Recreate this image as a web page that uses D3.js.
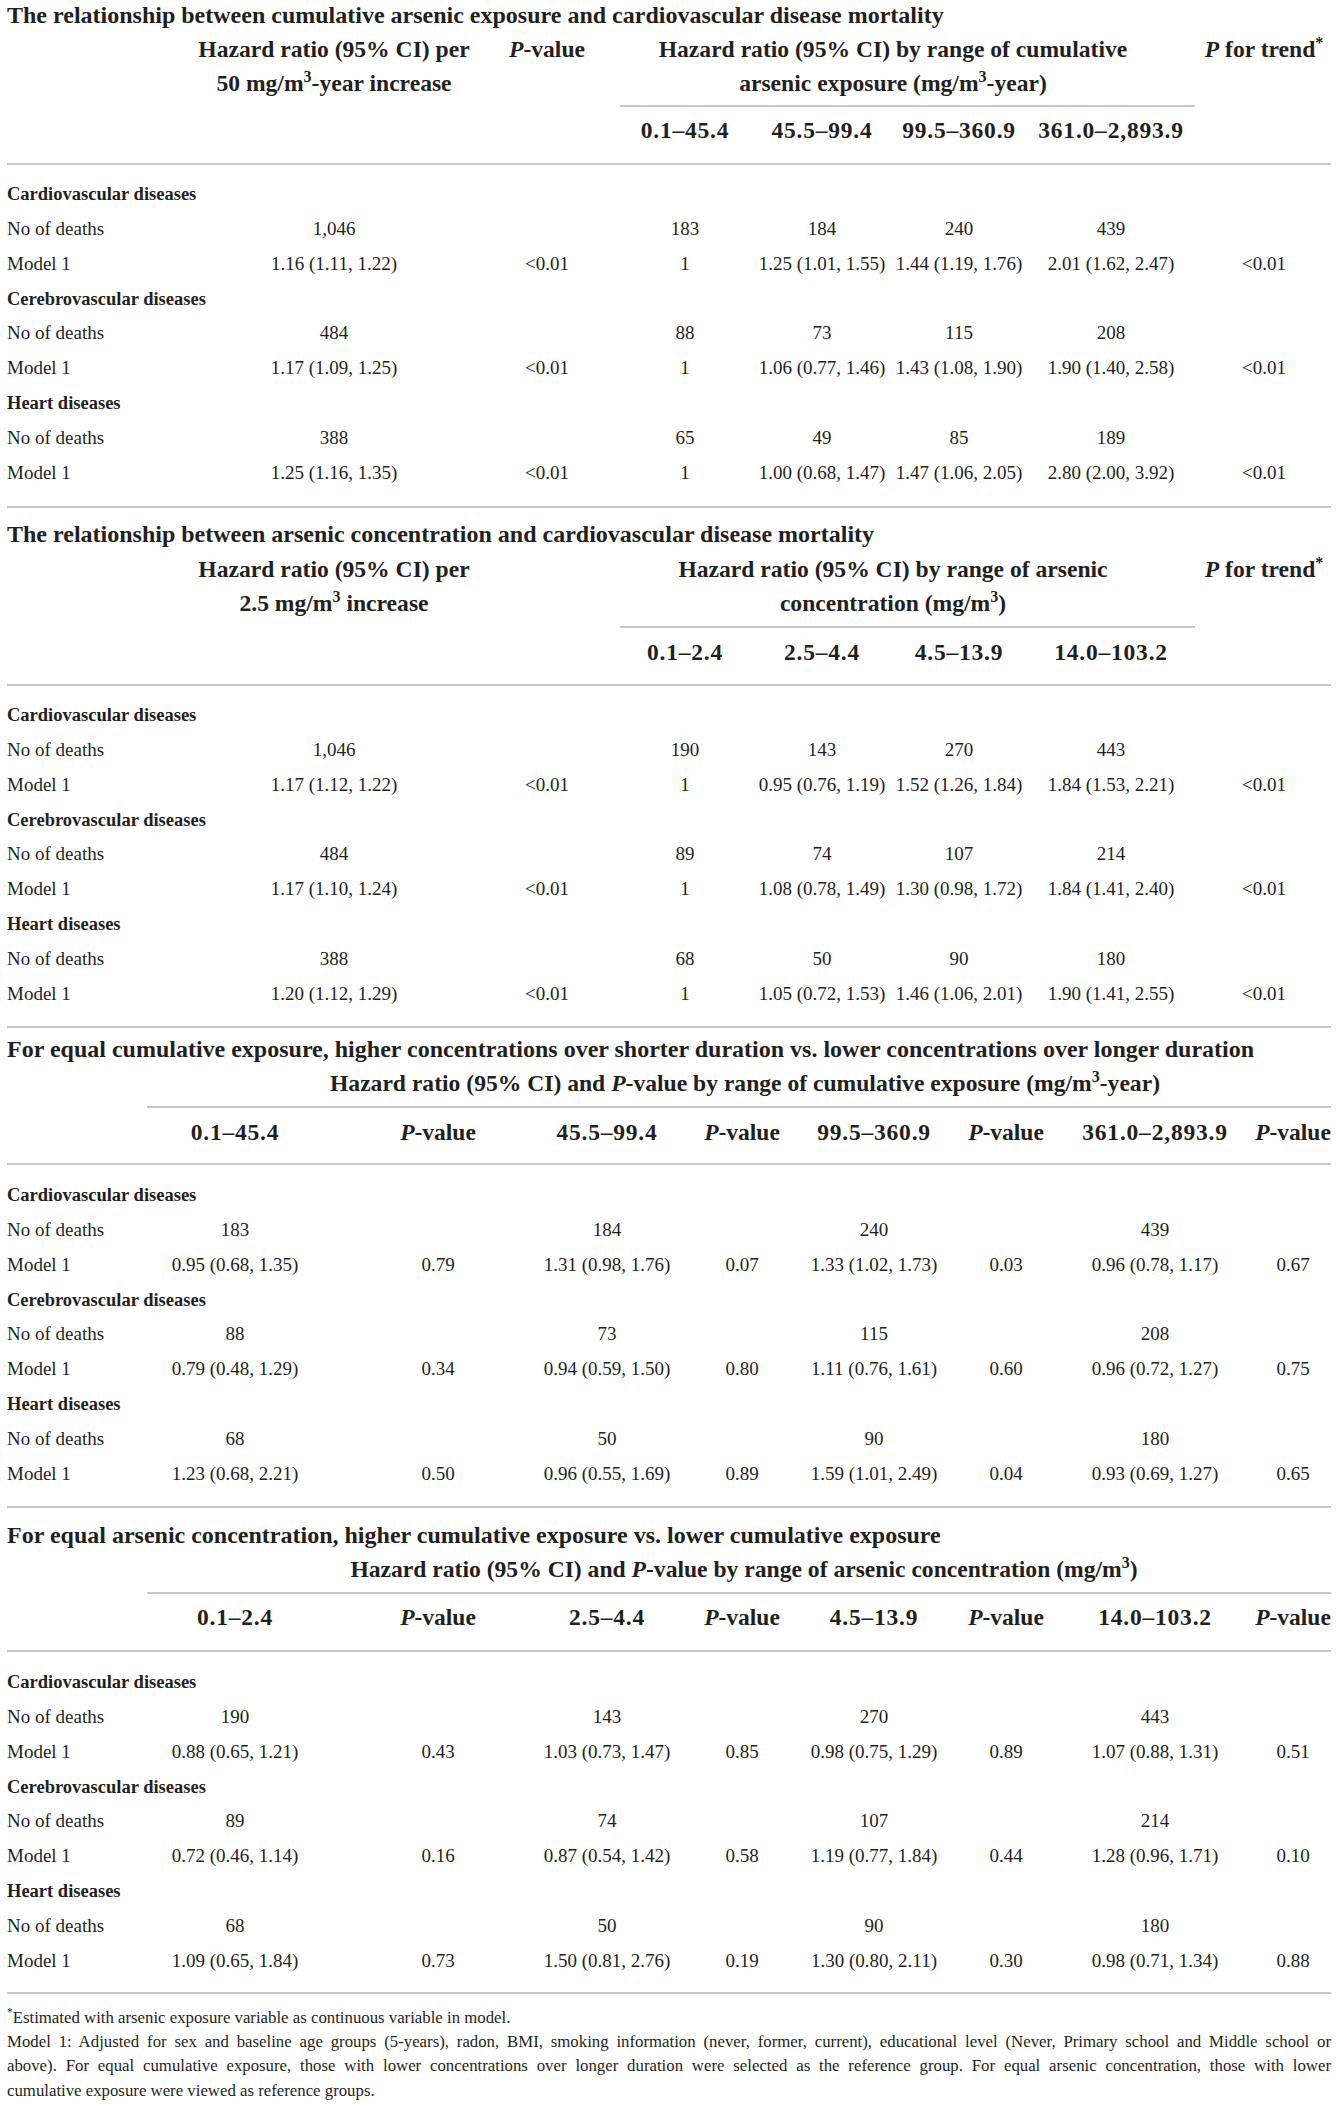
<!DOCTYPE html>
<html><head><meta charset="utf-8">
<script src="https://cdn.jsdelivr.net/npm/d3@7"></script>
<style>
html,body{margin:0;padding:0;background:#fff;}
svg{display:block;}
</style>
</head><body>
<script>
// ---------------- DATA ----------------
const diseases = ["Cardiovascular diseases", "Cerebrovascular diseases", "Heart diseases"];
const rowLabels = ["No of deaths", "Model 1"];

const titles = [
  "The relationship between cumulative arsenic exposure and cardiovascular disease mortality",
  "The relationship between arsenic concentration and cardiovascular disease mortality",
  "For equal cumulative exposure, higher concentrations over shorter duration vs. lower concentrations over longer duration",
  "For equal arsenic concentration, higher cumulative exposure vs. lower cumulative exposure"
];

const cumRanges = ["0.1–45.4", "45.5–99.4", "99.5–360.9", "361.0–2,893.9"];
const concRanges = ["0.1–2.4", "2.5–4.4", "4.5–13.9", "14.0–103.2"];

// Section 1: cumulative exposure
const s1TotalDeaths = [1046, 484, 388];
const s1PerHR = ["1.16 (1.11, 1.22)", "1.17 (1.09, 1.25)", "1.25 (1.16, 1.35)"];
const s1PerP = ["<0.01", "<0.01", "<0.01"];
const s1Deaths = [[183, 184, 240, 439], [88, 73, 115, 208], [65, 49, 85, 189]];
const s1HR = [
  ["1", "1.25 (1.01, 1.55)", "1.44 (1.19, 1.76)", "2.01 (1.62, 2.47)"],
  ["1", "1.06 (0.77, 1.46)", "1.43 (1.08, 1.90)", "1.90 (1.40, 2.58)"],
  ["1", "1.00 (0.68, 1.47)", "1.47 (1.06, 2.05)", "2.80 (2.00, 3.92)"]
];
const s1Trend = ["<0.01", "<0.01", "<0.01"];

// Section 2: concentration
const s2TotalDeaths = [1046, 484, 388];
const s2PerHR = ["1.17 (1.12, 1.22)", "1.17 (1.10, 1.24)", "1.20 (1.12, 1.29)"];
const s2PerP = ["<0.01", "<0.01", "<0.01"];
const s2Deaths = [[190, 143, 270, 443], [89, 74, 107, 214], [68, 50, 90, 180]];
const s2HR = [
  ["1", "0.95 (0.76, 1.19)", "1.52 (1.26, 1.84)", "1.84 (1.53, 2.21)"],
  ["1", "1.08 (0.78, 1.49)", "1.30 (0.98, 1.72)", "1.84 (1.41, 2.40)"],
  ["1", "1.05 (0.72, 1.53)", "1.46 (1.06, 2.01)", "1.90 (1.41, 2.55)"]
];
const s2Trend = ["<0.01", "<0.01", "<0.01"];

// Section 3: equal cumulative exposure
const s3Deaths = [[183, 184, 240, 439], [88, 73, 115, 208], [68, 50, 90, 180]];
const s3HR = [
  ["0.95 (0.68, 1.35)", "1.31 (0.98, 1.76)", "1.33 (1.02, 1.73)", "0.96 (0.78, 1.17)"],
  ["0.79 (0.48, 1.29)", "0.94 (0.59, 1.50)", "1.11 (0.76, 1.61)", "0.96 (0.72, 1.27)"],
  ["1.23 (0.68, 2.21)", "0.96 (0.55, 1.69)", "1.59 (1.01, 2.49)", "0.93 (0.69, 1.27)"]
];
const s3P = [["0.79", "0.07", "0.03", "0.67"], ["0.34", "0.80", "0.60", "0.75"], ["0.50", "0.89", "0.04", "0.65"]];

// Section 4: equal concentration
const s4Deaths = [[190, 143, 270, 443], [89, 74, 107, 214], [68, 50, 90, 180]];
const s4HR = [
  ["0.88 (0.65, 1.21)", "1.03 (0.73, 1.47)", "0.98 (0.75, 1.29)", "1.07 (0.88, 1.31)"],
  ["0.72 (0.46, 1.14)", "0.87 (0.54, 1.42)", "1.19 (0.77, 1.84)", "1.28 (0.96, 1.71)"],
  ["1.09 (0.65, 1.84)", "1.50 (0.81, 2.76)", "1.30 (0.80, 2.11)", "0.98 (0.71, 1.34)"]
];
const s4P = [["0.43", "0.85", "0.89", "0.51"], ["0.16", "0.58", "0.44", "0.10"], ["0.73", "0.19", "0.30", "0.88"]];

const footnotes = [
  {parts: [{t: "*", sup: true}, {t: "Estimated with arsenic exposure variable as continuous variable in model."}], justify: false},
  {parts: [{t: "Model 1: Adjusted for sex and baseline age groups (5-years), radon, BMI, smoking information (never, former, current), educational level (Never, Primary school and Middle school or"}], justify: true},
  {parts: [{t: "above). For equal cumulative exposure, those with lower concentrations over longer duration were selected as the reference group. For equal arsenic concentration, those with lower"}], justify: true},
  {parts: [{t: "cumulative exposure were viewed as reference groups."}], justify: false}
];

// ---------------- LAYOUT / STYLE ----------------
const W = 1338, H = 2104;
const INK = "#231f20", RULE = "#c8c8c8";
const FONT = "'Liberation Serif', 'Times New Roman', serif";
const FS_TITLE = 24, FS_HEAD = 23.6, FS_RANGE = 23.5, FS_CAT = 18.5, FS_BODY = 19, FS_FOOT = 16.8;
const LEFT = 7, RIGHT = 1331;

const svg = d3.select("body").append("svg")
  .attr("width", W).attr("height", H)
  .attr("font-family", FONT).attr("fill", INK);
svg.append("rect").attr("width", W).attr("height", H).attr("fill", "#fff");

function rich(g, x, y, parts, fs, opts = {}) {
  const t = g.append("text")
    .attr("x", x).attr("y", y + fs * 0.33)
    .attr("font-size", fs)
    .attr("font-weight", opts.bold ? "bold" : "normal")
    .attr("text-anchor", opts.anchor || "middle")
    .attr("fill", INK);
  if (opts.ls) t.attr("letter-spacing", opts.ls);
  let pending = 0;
  parts.forEach(p => {
    const s = t.append("tspan").text(p.t);
    if (p.sup) {
      s.attr("font-size", fs * 0.68).attr("dy", -fs * 0.38 + pending);
      pending = fs * 0.38;
    } else {
      if (pending) { s.attr("dy", pending); pending = 0; }
      if (p.it) s.attr("font-style", "italic");
    }
  });
  return t;
}
function hline(x1, x2, y) {
  svg.append("line").attr("x1", x1).attr("x2", x2).attr("y1", y).attr("y2", y)
    .attr("stroke", RULE).attr("stroke-width", 2);
}

// Horizontal rules (full width)
const rulesY = [164, 507, 685, 1027, 1164, 1507, 1651, 1993];
rulesY.forEach(y => hline(LEFT, RIGHT, y));

// ---------- Sections 1 & 2 (per-increase + ranges + trend) ----------
function sectionA(cfg) {
  const g = svg.append("g");
  const x = d3.scaleOrdinal()
    .domain(["per", "p", "r0", "r1", "r2", "r3", "trend"])
    .range([334, 547, 685, 822, 959, 1111, 1264]);
  const y = d3.scaleLinear().domain([0, 8]).range([cfg.rowTop, cfg.rowTop + 8 * 34.8]);

  rich(g, LEFT, cfg.titleY, [{t: cfg.title}], FS_TITLE, {bold: true, anchor: "start"});
  rich(g, x("per"), cfg.h1Y, [{t: "Hazard ratio (95% CI) per"}], FS_HEAD, {bold: true});
  rich(g, x("per"), cfg.h2Y, cfg.perLine2, FS_HEAD, {bold: true});
  if (cfg.showP) rich(g, x("p"), cfg.h1Y, [{t: "P", it: true}, {t: "-value"}], FS_HEAD, {bold: true});
  rich(g, 893, cfg.h1Y, [{t: cfg.grpLine1}], FS_HEAD, {bold: true});
  rich(g, 893, cfg.h2Y, cfg.grpLine2, FS_HEAD, {bold: true});
  rich(g, x("trend"), cfg.h1Y, [{t: "P", it: true}, {t: " for trend"}, {t: "*", sup: true}], FS_HEAD, {bold: true});
  hline(620, 1195, cfg.ulY);
  cfg.ranges.forEach((r, j) => rich(g, x("r" + j), cfg.labY, [{t: r}], FS_RANGE, {bold: true, ls: 0.8}));

  diseases.forEach((d, i) => {
    const base = i * 3;
    rich(g, LEFT, y(base), [{t: d}], FS_CAT, {bold: true, anchor: "start"});
    rich(g, LEFT, y(base + 1), [{t: rowLabels[0]}], FS_BODY, {anchor: "start"});
    rich(g, LEFT, y(base + 2), [{t: rowLabels[1]}], FS_BODY, {anchor: "start"});
    rich(g, x("per"), y(base + 1), [{t: d3.format(",")(cfg.total[i])}], FS_BODY);
    cfg.deaths[i].forEach((v, j) => rich(g, x("r" + j), y(base + 1), [{t: d3.format(",")(v)}], FS_BODY));
    rich(g, x("per"), y(base + 2), [{t: cfg.perHR[i]}], FS_BODY);
    rich(g, x("p"), y(base + 2), [{t: cfg.perP[i]}], FS_BODY);
    cfg.hr[i].forEach((v, j) => rich(g, x("r" + j), y(base + 2), [{t: v}], FS_BODY));
    rich(g, x("trend"), y(base + 2), [{t: cfg.trend[i]}], FS_BODY);
  });
}

// ---------- Sections 3 & 4 (ranges with P-values) ----------
function sectionB(cfg) {
  const g = svg.append("g");
  const x = d3.scaleOrdinal()
    .domain(["r0", "p0", "r1", "p1", "r2", "p2", "r3", "p3"])
    .range([235, 438, 607, 742, 874, 1006, 1155, 1293]);
  const y = d3.scaleLinear().domain([0, 8]).range([cfg.rowTop, cfg.rowTop + 8 * 34.8]);

  rich(g, LEFT, cfg.titleY, [{t: cfg.title}], FS_TITLE, {bold: true, anchor: "start"});
  rich(g, cfg.hdrX, cfg.hY, cfg.header, FS_HEAD, {bold: true});
  hline(147, RIGHT, cfg.ulY);
  cfg.ranges.forEach((r, j) => {
    rich(g, x("r" + j), cfg.labY, [{t: r}], FS_RANGE, {bold: true, ls: 0.8});
    rich(g, x("p" + j), cfg.labY, [{t: "P", it: true}, {t: "-value"}], FS_RANGE, {bold: true});
  });
  diseases.forEach((d, i) => {
    const base = i * 3;
    rich(g, LEFT, y(base), [{t: d}], FS_CAT, {bold: true, anchor: "start"});
    rich(g, LEFT, y(base + 1), [{t: rowLabels[0]}], FS_BODY, {anchor: "start"});
    rich(g, LEFT, y(base + 2), [{t: rowLabels[1]}], FS_BODY, {anchor: "start"});
    cfg.deaths[i].forEach((v, j) => rich(g, x("r" + j), y(base + 1), [{t: d3.format(",")(v)}], FS_BODY));
    cfg.hr[i].forEach((v, j) => rich(g, x("r" + j), y(base + 2), [{t: v}], FS_BODY));
    cfg.p[i].forEach((v, j) => rich(g, x("p" + j), y(base + 2), [{t: v}], FS_BODY));
  });
}

sectionA({
  title: titles[0], titleY: 15, h1Y: 49, h2Y: 83, ulY: 106, labY: 130, rowTop: 194, showP: true,
  perLine2: [{t: "50 mg/m"}, {t: "3", sup: true}, {t: "-year increase"}],
  grpLine1: "Hazard ratio (95% CI) by range of cumulative",
  grpLine2: [{t: "arsenic exposure (mg/m"}, {t: "3", sup: true}, {t: "-year)"}],
  ranges: cumRanges, total: s1TotalDeaths, deaths: s1Deaths, perHR: s1PerHR, perP: s1PerP, hr: s1HR, trend: s1Trend
});
sectionA({
  title: titles[1], titleY: 534, h1Y: 569, h2Y: 603, ulY: 627, labY: 652, rowTop: 715, showP: false,
  perLine2: [{t: "2.5 mg/m"}, {t: "3", sup: true}, {t: " increase"}],
  grpLine1: "Hazard ratio (95% CI) by range of arsenic",
  grpLine2: [{t: "concentration (mg/m"}, {t: "3", sup: true}, {t: ")"}],
  ranges: concRanges, total: s2TotalDeaths, deaths: s2Deaths, perHR: s2PerHR, perP: s2PerP, hr: s2HR, trend: s2Trend
});
sectionB({
  title: titles[2], titleY: 1049, hY: 1083, ulY: 1107, labY: 1132, rowTop: 1195, hdrX: 745,
  header: [{t: "Hazard ratio (95% CI) and "}, {t: "P", it: true}, {t: "-value by range of cumulative exposure (mg/m"}, {t: "3", sup: true}, {t: "-year)"}],
  ranges: cumRanges, deaths: s3Deaths, hr: s3HR, p: s3P
});
sectionB({
  title: titles[3], titleY: 1535, hY: 1569, ulY: 1593, labY: 1617, rowTop: 1682, hdrX: 744,
  header: [{t: "Hazard ratio (95% CI) and "}, {t: "P", it: true}, {t: "-value by range of arsenic concentration (mg/m"}, {t: "3", sup: true}, {t: ")"}],
  ranges: concRanges, deaths: s4Deaths, hr: s4HR, p: s4P
});

// ---------- Footnotes ----------
const fy = d3.scaleLinear().domain([0, 3]).range([2017, 2090]);
footnotes.forEach((f, i) => {
  const t = rich(svg, LEFT, fy(i), f.parts, FS_FOOT, {anchor: "start"});
  if (f.justify) {
    const len = t.node().getComputedTextLength();
    const txt = f.parts.map(p => p.t).join("");
    const spaces = (txt.match(/ /g) || []).length;
    if (spaces > 0) t.attr("word-spacing", Math.max(0, (RIGHT - LEFT - len) / spaces));
  }
});
</script>
</body></html>
